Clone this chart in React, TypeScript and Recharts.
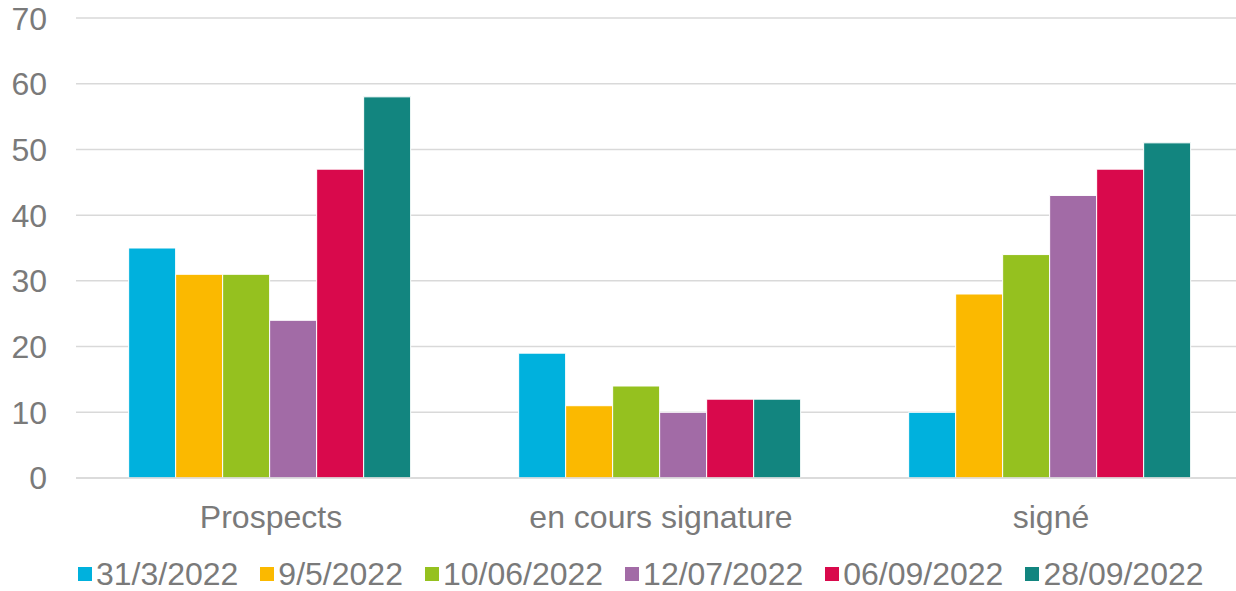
import React from "react";
import { BarChart, Bar, XAxis, YAxis, CartesianGrid, Legend } from "recharts";

const categories = ["Prospects", "en cours signature", "signé"];
const seriesNames = ["31/3/2022", "9/5/2022", "10/06/2022", "12/07/2022", "06/09/2022", "28/09/2022"];
const seriesColors = ["#00B1DD", "#FBB900", "#95C11F", "#A26BA6", "#D9094C", "#12857F"];
const s1 = [35, 19, 10];
const s2 = [31, 11, 28];
const s3 = [31, 14, 34];
const s4 = [24, 10, 43];
const s5 = [47, 12, 47];
const s6 = [58, 12, 51];
const yTicks = [0, 10, 20, 30, 40, 50, 60, 70];

const seriesValues = [s1, s2, s3, s4, s5, s6];
const data = categories.map((c, i) => {
  const row: Record<string, string | number> = { name: c };
  seriesNames.forEach((s, k) => {
    row[s] = seriesValues[k][i];
  });
  return row;
});

const textColor = "#7a7a7a";
const font = "'Liberation Sans', Arial, sans-serif";

function LegendContent() {
  return (
    <div style={{ display: "flex", alignItems: "center", gap: 22, fontFamily: font, fontSize: 32, color: textColor }}>
      {seriesNames.map((s, i) => (
        <div key={s} style={{ display: "flex", alignItems: "center" }}>
          <span style={{ width: 14, height: 14, background: seriesColors[i], marginRight: 4, display: "inline-block" }} />
          <span style={{ lineHeight: "32px" }}>{s}</span>
        </div>
      ))}
    </div>
  );
}

export default function App() {
  return (
    <div style={{ position: "absolute", left: 0, top: 0, width: 1236, height: 591, overflow: "hidden", background: "#fff" }}>
      <BarChart
        width={1246}
        height={591}
        data={data}
        margin={{ top: 18, right: 0, bottom: 51, left: 0 }}
        barCategoryGap="13.5%"
        barGap={0}
      >
        <CartesianGrid vertical={false} stroke="#d9d9d9" strokeWidth={1.5} />
        <XAxis
          dataKey="name"
          axisLine={{ stroke: "#d9d9d9", strokeWidth: 1.5 }}
          tickLine={false}
          tickSize={0}
          tickMargin={27}
          tick={{ fill: textColor, fontSize: 32, fontFamily: font }}
        />
        <YAxis
          width={76}
          domain={[0, 70]}
          ticks={yTicks}
          axisLine={false}
          tickLine={false}
          tickSize={0}
          tickMargin={29}
          tick={{ fill: textColor, fontSize: 32, fontFamily: font }}
        />
        <Legend
          content={<LegendContent />}
          verticalAlign="bottom"
          wrapperStyle={{ left: 78, bottom: 1, width: "auto" }}
        />
        {seriesNames.map((s, i) => (
          <Bar key={s} dataKey={s} fill={seriesColors[i]} stroke="#fff" strokeWidth={1} isAnimationActive={false} />
        ))}
      </BarChart>
    </div>
  );
}
